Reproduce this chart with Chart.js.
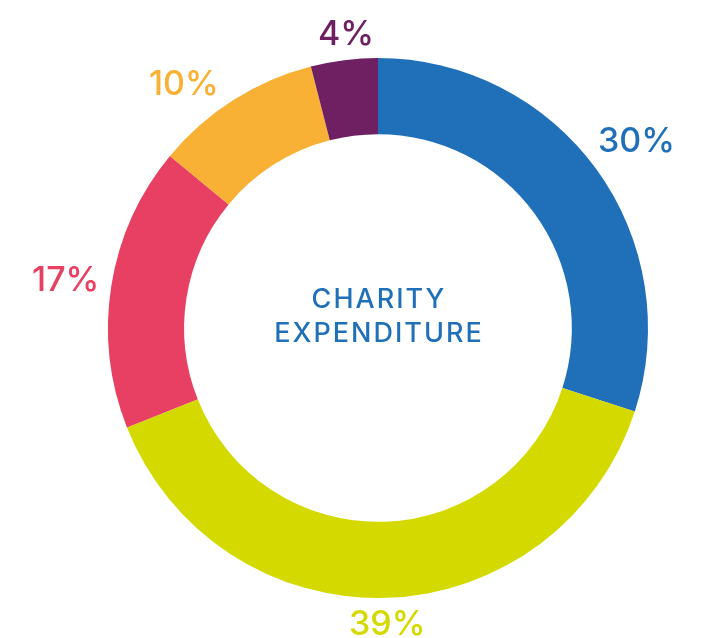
<!DOCTYPE html>
<html>
<head>
<meta charset="utf-8">
<script src="https://cdn.jsdelivr.net/npm/chart.js@4/dist/chart.umd.min.js"></script>
<style>
  html, body { margin: 0; padding: 0; background: #fff; }
</style>
</head>
<body>
<canvas id="chart" width="713" height="638"></canvas>
<script>
// shares in percent, clockwise from 12 o'clock
const values = [30, 39, 17, 10, 4];
const colors = ["#1f70b8", "#d4da00", "#e84062", "#f8b134", "#6e2062"];
const centerLines = ["CHARITY", "EXPENDITURE"];

const FONT = "Inter, 'Noto Sans', sans-serif";

// percent labels just outside each slice
const outerLabels = {
  id: "outerLabels",
  // small hand tweaks of the label angle (degrees), like the original layout
  nudge: [0, 0, 0, -6, 1],
  afterDatasetsDraw(chart) {
    const ctx = chart.ctx;
    const meta = chart.getDatasetMeta(0);
    ctx.save();
    ctx.font = "500 34px " + FONT;
    ctx.textAlign = "center";
    ctx.textBaseline = "middle";
    meta.data.forEach((arc, i) => {
      const { x, y, startAngle, endAngle, outerRadius } = arc.getProps(
        ["x", "y", "startAngle", "endAngle", "outerRadius"], true);
      const mid = (startAngle + endAngle) / 2 + this.nudge[i] * Math.PI / 180;
      const text = values[i] + "%";
      const w = ctx.measureText(text).width;
      const h = 25;
      const c = Math.cos(mid), s = Math.sin(mid);
      const r = outerRadius + 11 + Math.abs(c) * w / 2 + Math.abs(s) * h / 2;
      ctx.fillStyle = colors[i];
      ctx.fillText(text, x + c * r, y + s * r + 2);
    });
    ctx.restore();
  }
};

const centerText = {
  id: "centerText",
  afterDatasetsDraw(chart) {
    const ctx = chart.ctx;
    const arc = chart.getDatasetMeta(0).data[0];
    ctx.save();
    ctx.font = "500 27px " + FONT;
    ctx.letterSpacing = "2px";
    ctx.fillStyle = "#1f70b8";
    ctx.textAlign = "center";
    ctx.textBaseline = "middle";
    ctx.fillText(centerLines[0], arc.x + 1, arc.y - 28);
    ctx.fillText(centerLines[1], arc.x + 1, arc.y + 6);
    ctx.restore();
  }
};

new Chart(document.getElementById("chart"), {
  type: "doughnut",
  data: {
    labels: values.map(v => v + "%"),
    datasets: [{
      data: values,
      backgroundColor: colors,
      borderWidth: 0,
      hoverOffset: 0
    }]
  },
  options: {
    responsive: false,
    animation: false,
    cutout: "71.8%",
    layout: { padding: { left: 108, right: 65, top: 58, bottom: 40 } },
    plugins: {
      legend: { display: false },
      tooltip: { enabled: false }
    }
  },
  plugins: [outerLabels, centerText]
});
</script>
</body>
</html>
